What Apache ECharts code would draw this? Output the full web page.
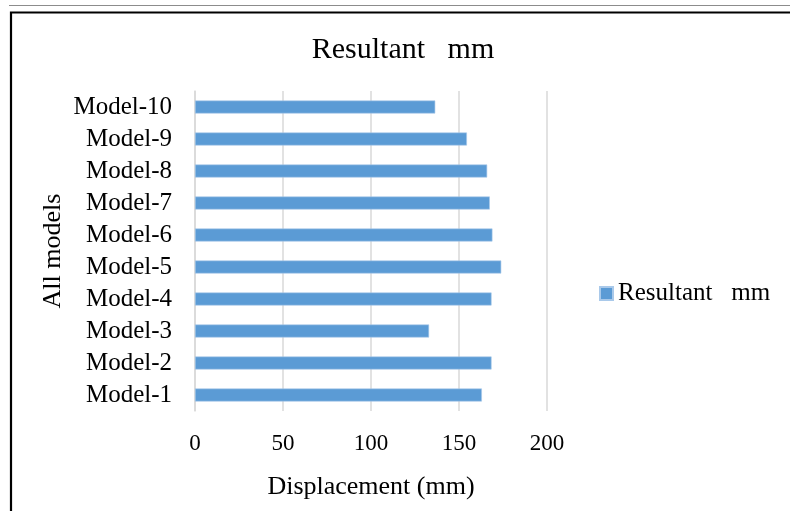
<!DOCTYPE html>
<html>
<head>
<meta charset="utf-8">
<script src="https://cdn.jsdelivr.net/npm/echarts@6/dist/echarts.min.js"></script>
<style>
html,body{margin:0;padding:0;background:#fff;}
#chart{width:790px;height:511px;}
</style>
</head>
<body>
<div id="chart"></div>
<script>
const categories = ['Model-1','Model-2','Model-3','Model-4','Model-5','Model-6','Model-7','Model-8','Model-9','Model-10'];
const resultant = [163, 168.5, 133, 168.5, 174, 169, 167.5, 166, 154.5, 136.5];
const xTicks = [0, 50, 100, 150, 200];
const seriesName = 'Resultant   mm';
const chartTitle = 'Resultant   mm';
const xTitle = 'Displacement (mm)';
const yTitle = 'All models';

const FONT = '"Liberation Serif", "Times New Roman", serif';
const chart = echarts.init(document.getElementById('chart'), null, {renderer: 'canvas'});
chart.setOption({
  animation: false,
  backgroundColor: '#ffffff',
  title: {
    text: chartTitle,
    left: 398,
    textAlign: 'center',
    top: 30,
    textStyle: {fontFamily: FONT, fontSize: 30, fontWeight: 'normal', color: '#000'}
  },
  legend: {
    data: [seriesName],
    orient: 'vertical',
    left: 594,
    top: 276,
    itemWidth: 13,
    itemHeight: 13,
    itemGap: 6,
    icon: 'rect',
    textStyle: {fontFamily: FONT, fontSize: 25, color: '#000', padding: [0,0,0,0]}
  },
  grid: {left: 195, right: 243, top: 91, bottom: 100, containLabel: false},
  xAxis: {
    type: 'value',
    min: xTicks[0],
    max: xTicks[xTicks.length - 1],
    interval: 50,
    name: xTitle,
    nameLocation: 'middle',
    nameGap: 63,
    nameTextStyle: {fontFamily: FONT, fontSize: 26, color: '#000'},
    axisLine: {show: false},
    axisTick: {show: false},
    axisLabel: {fontFamily: FONT, fontSize: 23, color: '#000', margin: 21},
    splitLine: {show: true, lineStyle: {color: '#d9d9d9', width: 1.5}}
  },
  yAxis: {
    type: 'category',
    data: categories,
    name: yTitle,
    nameLocation: 'middle',
    nameGap: 129,
    nameRotate: 90,
    nameTextStyle: {fontFamily: FONT, fontSize: 26, color: '#000'},
    axisLine: {show: true, lineStyle: {color: '#d9d9d9', width: 1.5}},
    axisTick: {show: false},
    axisLabel: {fontFamily: FONT, fontSize: 25, color: '#000', margin: 23, interval: 0},
    splitLine: {show: false}
  },
  series: [{
    name: seriesName,
    type: 'bar',
    data: resultant,
    barWidth: 13,
    itemStyle: {color: '#5b9bd5', borderColor: '#a9c9ea', borderWidth: 0.6}
  }],
  graphic: [
    {type: 'line', shape: {x1: 9, y1: 5.5, x2: 790, y2: 5.5}, style: {stroke: '#8c8c8c', lineWidth: 1.2}, silent: true},
    {type: 'rect', shape: {x: 11, y: 12.5, width: 800, height: 520}, style: {fill: null, stroke: '#000', lineWidth: 2.2}, silent: true}
  ]
});
</script>
</body>
</html>
